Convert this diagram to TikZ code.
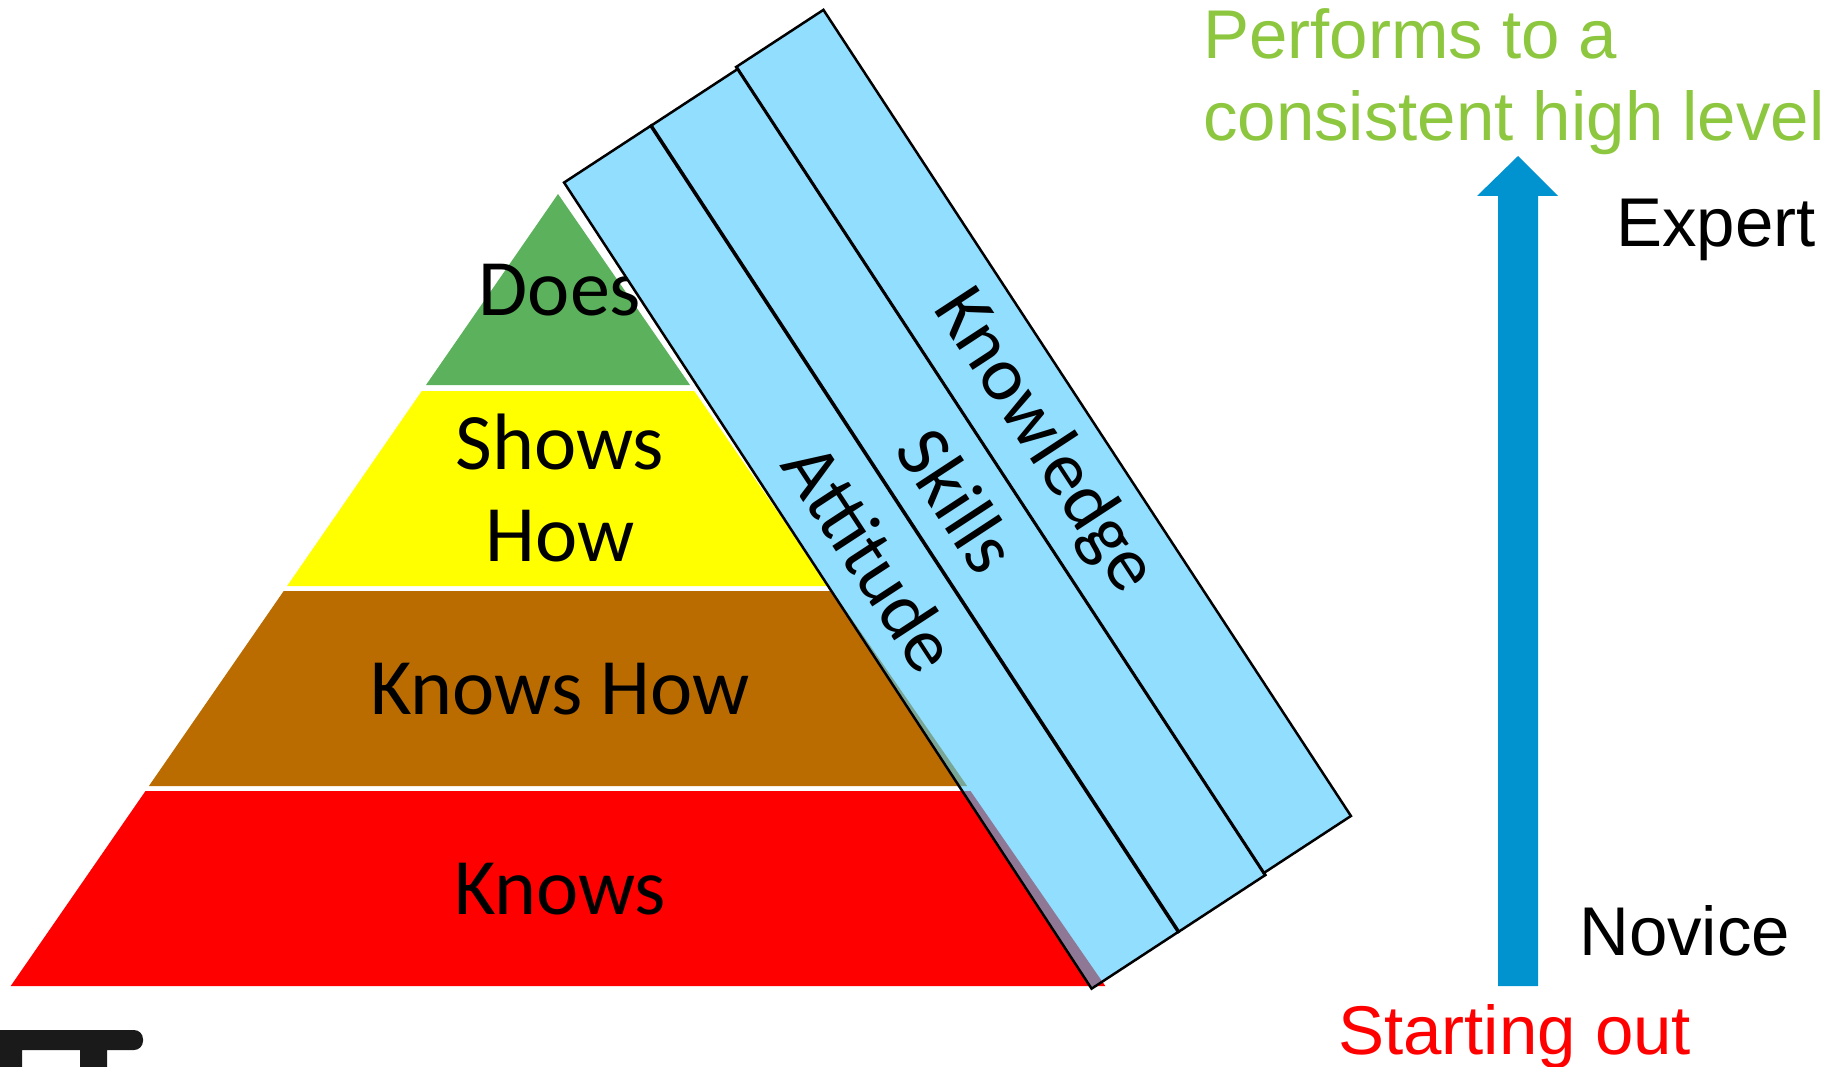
\documentclass[tikz,border=0pt]{standalone}
\usepackage{fontspec}
\setmainfont{Carlito}
\newfontfamily\arial{Liberation Sans}

\definecolor{verdeP}{RGB}{92,178,92}
\definecolor{amarilloP}{RGB}{255,255,0}
\definecolor{marronP}{RGB}{187,108,0}
\definecolor{rojoP}{RGB}{255,0,0}
\definecolor{azulBanda}{RGB}{146,222,254}
\definecolor{solapeRojo}{RGB}{143,120,150}
\definecolor{solapeMarron}{RGB}{122,166,150}
\definecolor{azulFlecha}{RGB}{0,147,208}
\definecolor{verdeTexto}{RGB}{141,198,63}
\definecolor{negroLogo}{RGB}{26,26,26}

\tikzset{
  nivel/.style={font=\fontsize{80}{92}\selectfont, align=center, anchor=base, inner sep=0pt},
  banda/.style={fill=azulBanda, minimum width=963pt, minimum height=104pt,
    inner sep=0pt, rotate=-56.8, font=\fontsize{77}{90}\selectfont},
  borde/.style={line width=2.5pt, line join=miter},
  etiqueta/.style={font=\arial\fontsize{69}{82}\selectfont, anchor=base west,
    align=left, inner sep=0pt},
}

\begin{document}
\begin{tikzpicture}[x=1pt,y=-1pt]
\useasboundingbox (0,0) rectangle (1833,1067);

% --- Piramide ---
\fill[verdeP] (558,194) -- (690,385) -- (426,385) -- cycle;
\fill[amarilloP] (421.8,391) -- (694.2,391) -- (828.9,586) -- (287.1,586) -- cycle;
\fill[marronP] (283.7,591) -- (832.3,591) -- (967.1,786) -- (148.9,786) -- cycle;
\fill[rojoP] (145.5,791) -- (970.5,791) -- (1105.3,986) -- (10.7,986) -- cycle;

% niveles (base = ultima linea)
\node[nivel] (does) at (560,315) {Does};
\node[nivel] (shows) at (560,561) {Shows\\How};
\node[nivel] (knowshow) at (560,714) {Knows How};
\node[nivel] (knows) at (560,914) {Knows};

% --- Bandas inclinadas ---
\node[banda] (actitud) at (871.5,557) {Attitude};
\node[banda] (habil) at (958,500.5) {Skills};
\node[banda] (conoc) at (1043.5,441.5) {Knowledge};

% parte de la piramide bajo la banda
\begin{scope}
\clip (actitud.north west) -- (actitud.north east) -- (actitud.south east) -- (actitud.south west) -- cycle;
\fill[solapeMarron] (283.7,591) -- (832.3,591) -- (967.1,786) -- (148.9,786) -- cycle;
\fill[solapeRojo] (145.5,791) -- (970.5,791) -- (1105.3,986) -- (10.7,986) -- cycle;
\end{scope}

\foreach \b in {actitud,habil,conoc}
  \draw[borde] (\b.north west) -- (\b.north east) -- (\b.south east) -- (\b.south west) -- cycle;

% --- Flecha de progreso ---
\fill[azulFlecha] (1498,986) -- (1498,196) -- (1477,196) -- (1518,156)
  -- (1558,196) -- (1538,196) -- (1538,986) -- cycle;

\node[etiqueta, text=verdeTexto] (alto) at (1203,141) {Performs to a\\consistent high level};
\node[etiqueta] (experto) at (1616,247) {Expert};
\node[etiqueta] (novato) at (1579,955) {Novice};
\node[etiqueta, text=rojoP] (inicio) at (1338,1054) {Starting out};

% resto de un logo, cortado por el borde
\fill[negroLogo] (0,1067) -- (0,1030) [rounded corners=9pt] -- (143,1030) -- (143,1050)
  [sharp corners] -- (107,1050) -- (107,1067) -- (80,1067) -- (80,1050)
  -- (22,1050) -- (22,1067) -- cycle;

\end{tikzpicture}
\end{document}
